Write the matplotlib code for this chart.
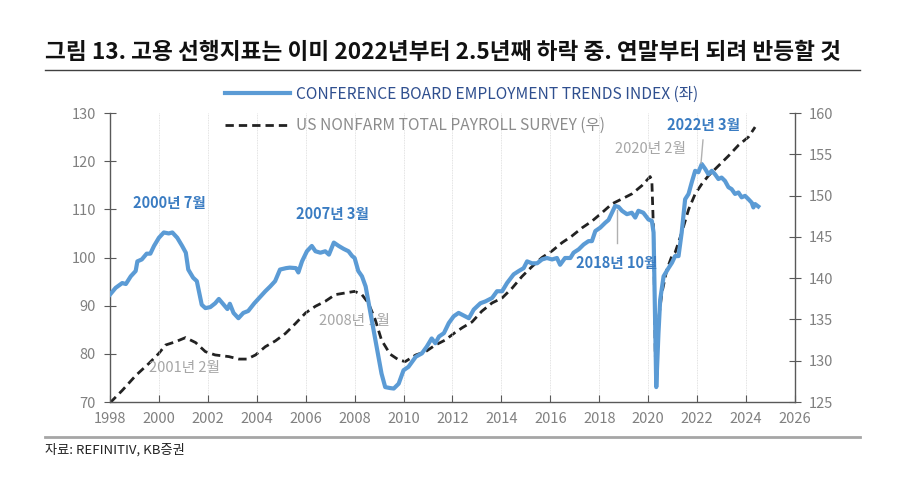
import matplotlib
matplotlib.use("Agg")
import matplotlib.pyplot as plt
from matplotlib.lines import Line2D
import numpy as np

plt.rcParams['font.family'] = ['Noto Sans CJK KR', 'DejaVu Sans']

# Conference Board Employment Trends Index (left axis)
eti_x = [1998.0, 1998.23, 1998.5, 1998.65, 1998.85, 1999.05, 1999.12, 1999.3, 1999.5, 1999.65,
         1999.8, 2000.0, 2000.2, 2000.4, 2000.55, 2000.75, 2000.95, 2001.1, 2001.2, 2001.4,
         2001.55, 2001.75, 2001.9, 2002.1, 2002.3, 2002.45, 2002.65, 2002.8, 2002.9, 2003.05,
         2003.25, 2003.45, 2003.65, 2003.9, 2004.1, 2004.35, 2004.55, 2004.75, 2004.95, 2005.2,
         2005.35, 2005.6, 2005.7, 2005.85, 2006.05, 2006.25, 2006.4, 2006.6, 2006.8, 2006.95,
         2007.15, 2007.35, 2007.55, 2007.75, 2007.9, 2008.0, 2008.15, 2008.3, 2008.45, 2008.6,
         2008.8, 2009.0, 2009.1, 2009.25, 2009.45, 2009.6, 2009.8, 2010.0, 2010.2, 2010.5,
         2010.75, 2010.95, 2011.15, 2011.3, 2011.45, 2011.65, 2011.85, 2012.05, 2012.25, 2012.4,
         2012.67, 2012.87, 2013.14, 2013.35, 2013.62, 2013.82, 2014.03, 2014.23, 2014.5, 2014.71,
         2014.91, 2015.05, 2015.25, 2015.46, 2015.66, 2015.86, 2016.07, 2016.27, 2016.4, 2016.6,
         2016.82, 2016.95, 2017.16, 2017.36, 2017.56, 2017.7, 2017.84, 2018.04, 2018.24, 2018.38,
         2018.52, 2018.65, 2018.79, 2018.93, 2019.13, 2019.33, 2019.47, 2019.6, 2019.8, 2020.01,
         2020.15, 2020.22, 2020.29, 2020.33, 2020.42, 2020.49, 2020.63, 2020.83, 2020.97, 2021.1,
         2021.24, 2021.37, 2021.51, 2021.65, 2021.78, 2021.92, 2022.05, 2022.19, 2022.33, 2022.46,
         2022.6, 2022.73, 2022.87, 2023.0, 2023.14, 2023.28, 2023.41, 2023.55, 2023.69, 2023.82,
         2023.96, 2024.1, 2024.23, 2024.3, 2024.37, 2024.5]
eti_y = [92.3, 93.7, 94.7, 94.5, 96.1, 97.2, 99.2, 99.6, 100.8, 100.8,
         102.4, 104.1, 105.2, 105.0, 105.2, 104.1, 102.4, 101.0, 97.5, 95.8,
         95.1, 90.2, 89.5, 89.7, 90.5, 91.4, 90.2, 89.3, 90.4, 88.5,
         87.4, 88.5, 88.9, 90.5, 91.6, 93.0, 94.0, 95.1, 97.5, 97.8,
         97.9, 97.8, 96.9, 99.2, 101.3, 102.4, 101.3, 101.0, 101.3, 100.6,
         103.1, 102.4, 101.8, 101.3, 100.3, 99.9, 97.2, 96.1, 94.0, 89.8,
         84.3, 78.7, 75.9, 73.1, 72.9, 72.8, 73.8, 76.6, 77.3, 79.4,
         80.1, 81.5, 83.2, 82.2, 83.6, 84.3, 86.4, 87.8, 88.5, 88.1,
         87.4, 89.2, 90.5, 90.9, 91.6, 93.0, 93.0, 94.7, 96.5, 97.2,
         97.8, 99.2, 98.8, 98.8, 99.6, 99.9, 99.6, 99.9, 98.5, 99.9,
         99.9, 101.0, 101.7, 102.7, 103.4, 103.4, 105.5, 106.2, 107.2, 107.8,
         109.3, 110.7, 110.5, 109.7, 109.0, 109.3, 108.3, 109.7, 109.3, 107.9,
         107.6, 105.2, 84.3, 73.1, 84.3, 91.2, 96.1, 97.8, 98.9, 100.3,
         100.3, 105.2, 112.1, 113.2, 115.6, 118.0, 117.7, 119.4, 118.4, 117.3,
         118.0, 117.3, 116.3, 116.6, 115.9, 114.6, 114.2, 113.2, 113.5, 112.5,
         112.8, 112.1, 111.4, 110.4, 111.1, 110.6]

# US nonfarm total payroll survey (right axis, millions)
nfp_x = [1998.0, 1998.5, 1999.05, 1999.6, 2000.0, 2000.27, 2000.68, 2001.09, 2001.5, 2001.9,
         2002.3, 2002.86, 2003.27, 2003.6, 2003.95, 2004.35, 2004.76, 2005.17, 2005.58, 2006.0,
         2006.4, 2006.8, 2007.2, 2007.6, 2008.0, 2008.3, 2008.56, 2008.84, 2009.1, 2009.45,
         2009.8, 2010.07, 2010.5, 2010.9, 2011.3, 2011.7, 2012.1, 2012.4, 2012.8, 2013.2,
         2013.62, 2014.03, 2014.44, 2014.84, 2015.25, 2015.66, 2016.07, 2016.48, 2016.88, 2017.3,
         2017.7, 2018.1, 2018.52, 2018.93, 2019.33, 2019.74, 2020.08, 2020.15, 2020.22, 2020.29,
         2020.42, 2020.56, 2020.76, 2020.97, 2021.1, 2021.37, 2021.65, 2021.92, 2022.19, 2022.46,
         2022.87, 2023.28, 2023.69, 2024.1, 2024.37]
nfp_y = [124.9, 126.4, 128.2, 129.7, 130.9, 131.9, 132.3, 132.8, 132.2, 131.1,
         130.7, 130.5, 130.2, 130.2, 130.7, 131.7, 132.4, 133.3, 134.5, 135.8,
         136.6, 137.2, 138.0, 138.2, 138.4, 138.0, 137.0, 135.0, 132.5, 130.8,
         130.1, 129.9, 130.7, 131.1, 131.9, 132.5, 133.4, 134.0, 134.7, 136.0,
         137.0, 137.6, 138.8, 140.2, 141.4, 142.5, 143.3, 144.3, 145.1, 146.1,
         146.9, 147.9, 149.0, 149.6, 150.2, 151.2, 152.3, 151.8, 145.5, 130.5,
         134.9, 138.2, 141.0, 142.7, 143.1, 145.5, 148.3, 150.2, 151.4, 152.4,
         153.6, 154.8, 156.1, 157.1, 158.3]

x_ticks = list(range(1998, 2027, 2))
left_ticks = [70, 80, 90, 100, 110, 120, 130]
right_ticks = [125, 130, 135, 140, 145, 150, 155, 160]

BLUE = '#5b9bd5'
BLUE_TXT = '#3a7cc2'
NAVY = '#2f4f8f'
GRAY_TXT = '#a6a6a6'
TICK_GRAY = '#808080'
SPINE = '#595959'

fig = plt.figure(figsize=(9, 4.97), dpi=100)
ax = fig.add_axes([0.1222, 0.1911, 0.7611, 0.5815])
ax2 = ax.twinx()

ax.set_xlim(1998, 2026)
ax.set_ylim(70, 130)
ax2.set_ylim(125, 160)

for xt in x_ticks[1:-1]:
    ax.axvline(xt, color='#d9d9d9', lw=0.6, ls=(0, (1, 1)), zorder=0)

ax2.plot(nfp_x, nfp_y, color='#222222', lw=2.0, ls=(0, (3, 1.8)), zorder=3,
         label='US NONFARM TOTAL PAYROLL SURVEY (우)')
ln1, = ax.plot(eti_x, eti_y, color=BLUE, lw=3.0, zorder=4,
               label='CONFERENCE BOARD EMPLOYMENT TRENDS INDEX (좌)')
ax.set_zorder(ax2.get_zorder() + 1)
ax.patch.set_visible(False)

ax.set_xticks(x_ticks)
ax.set_yticks(left_ticks)
ax2.set_yticks(right_ticks)

for a in (ax, ax2):
    a.spines['top'].set_visible(False)
    for s in ('left', 'right', 'bottom'):
        a.spines[s].set_color(SPINE)
        a.spines[s].set_linewidth(1.0)
ax.spines['right'].set_visible(False)
ax2.spines['left'].set_visible(False)
ax2.spines['bottom'].set_visible(False)

ax.tick_params(axis='x', direction='in', length=5, color=SPINE, labelcolor=TICK_GRAY,
               labelsize=10.5, pad=7)
ax.tick_params(axis='y', direction='inout', length=8, color=SPINE, labelcolor=TICK_GRAY,
               labelsize=10.5, pad=6)
ax2.tick_params(axis='y', direction='inout', length=8, color=SPINE, labelcolor=TICK_GRAY,
                labelsize=10.5, pad=6)

# annotations
ax.text(2000.41, 111.3, '2000년 7월', color=BLUE_TXT, fontsize=10.5, fontweight='bold',
        ha='center', va='center')
ax.text(2007.08, 109.0, '2007년 3월', color=BLUE_TXT, fontsize=10.5, fontweight='bold',
        ha='center', va='center')
ax.text(2001.03, 77.1, '2001년 2월', color=GRAY_TXT, fontsize=10.5, ha='center', va='center',
        zorder=2)
ax.text(2007.98, 86.8, '2008년 1월', color=GRAY_TXT, fontsize=10.5, ha='center', va='center',
        zorder=2)
ax.text(2018.73, 98.9, '2018년 10월', color=BLUE_TXT, fontsize=10.5, fontweight='bold',
        ha='center', va='center', zorder=5)
ax.text(2020.08, 122.5, '2020년 2월', color=GRAY_TXT, fontsize=10.5, ha='center', va='center')
ax.text(2022.28, 127.5, '2022년 3월', color=BLUE_TXT, fontsize=10.5, fontweight='bold',
        ha='center', va='center')
ax.plot([2018.73, 2018.73], [109.9, 103.0], color='#b0b0b0', lw=1.0, zorder=5)
ax.plot([2022.24, 2022.16], [124.4, 119.6], color='#b0b0b0', lw=1.0, zorder=5)

# legend
h2 = Line2D([], [], color='#222222', lw=2.0, ls=(0, (3, 1.8)))
leg = fig.legend([ln1, h2], ['CONFERENCE BOARD EMPLOYMENT TRENDS INDEX (좌)',
                             'US NONFARM TOTAL PAYROLL SURVEY (우)'],
                 loc='upper left', bbox_to_anchor=(0.25, 0.828), frameon=False,
                 fontsize=11.2, handlelength=4.2, handletextpad=0.35, labelspacing=0.95,
                 borderaxespad=0, borderpad=0)
leg.get_texts()[0].set_color(NAVY)
leg.get_texts()[1].set_color('#8c8c8c')

# title and rules
fig.text(0.05, 0.894, '그림 13. 고용 선행지표는 이미 2022년부터 2.5년째 하락 중. 연말부터 되려 반등할 것',
         fontsize=16.3, fontweight='bold', color='#111111', ha='left', va='center')
fig.add_artist(Line2D([0.05, 0.956], [0.859, 0.859], color='#404040', lw=1.0))
fig.add_artist(Line2D([0.05, 0.956], [0.121, 0.121], color='#a6a6a6', lw=2.0))
fig.text(0.05, 0.094, '자료: REFINITIV, KB증권', fontsize=9.5, color='#222222',
         ha='left', va='center')

fig.savefig('out.png', dpi=100)
